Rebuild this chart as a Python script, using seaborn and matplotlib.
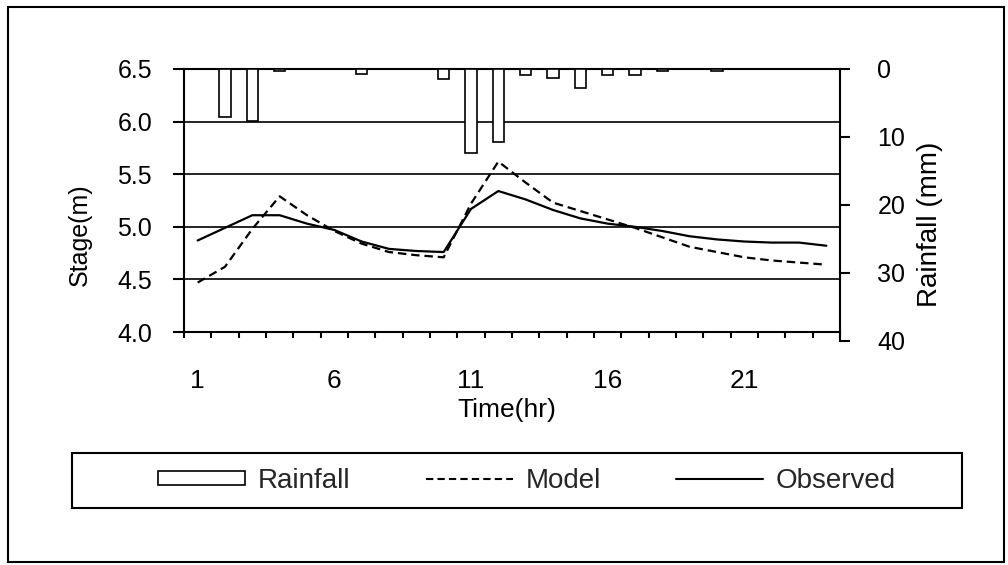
import matplotlib
matplotlib.use("Agg")
import matplotlib.pyplot as plt
from matplotlib.patches import Rectangle, Patch
from matplotlib.lines import Line2D
import numpy as np
import pandas as pd
import seaborn as sns

# Hourly series
hours = list(range(1, 25))
rainfall_mm = [0, 7.0, 7.6, 0.3, 0, 0, 0.7, 0, 0, 1.5, 12.3, 10.8,
               0.9, 1.3, 2.8, 0.9, 0.9, 0.3, 0, 0.3, 0, 0, 0, 0]
model_stage = [4.47, 4.62, 4.98, 5.29, 5.11, 4.96, 4.84, 4.76, 4.73, 4.71, 5.22, 5.62,
               5.42, 5.23, 5.15, 5.07, 4.99, 4.90, 4.81, 4.76, 4.71, 4.68, 4.66, 4.64]
observed_stage = [4.87, 4.99, 5.11, 5.11, 5.03, 4.97, 4.86, 4.79, 4.77, 4.76, 5.17, 5.34,
                  5.26, 5.16, 5.08, 5.03, 5.00, 4.96, 4.91, 4.88, 4.86, 4.85, 4.85, 4.82]

x_ticks = [1, 6, 11, 16, 21]
stage_ticks = [4.0, 4.5, 5.0, 5.5, 6.0, 6.5]
rain_ticks = [0, 10, 20, 30, 40]
series_labels = ["Rainfall", "Model", "Observed"]

sns.set_theme(style="white")
plt.rcParams["font.family"] = ["Liberation Sans", "DejaVu Sans"]

W, H = 1008, 565
fig = plt.figure(figsize=(W / 100, H / 100), dpi=100)


def fx(px):
    return px / W


def fy(py):
    return 1 - py / H


# Stage axes (left) and rainfall axes (right, hanging bars)
ax = fig.add_axes([fx(184), fy(332), fx(840) - fx(184), fy(69) - fy(332)])
axr = fig.add_axes([fx(184), fy(341), fx(840) - fx(184), fy(69) - fy(341)])

stage_df = pd.DataFrame({
    "Time": hours * 2,
    "Stage": model_stage + observed_stage,
    "Series": ["Model"] * len(hours) + ["Observed"] * len(hours),
})
sns.lineplot(data=stage_df, x="Time", y="Stage", style="Series",
             dashes={"Model": (3.8, 2.2), "Observed": ""},
             color="black", linewidth=1.6, legend=False, ax=ax)

ax.set_xlim(0.5, 24.5)
ax.set_ylim(4.0, 6.5)
ax.set_yticks(stage_ticks)
ax.set_yticklabels([f"{v:.1f}" for v in stage_ticks])
ax.set_xticks(x_ticks)
ax.set_xticklabels([str(v) for v in x_ticks])
ax.set_xticks(np.arange(0.5, 25, 1), minor=True)
ax.yaxis.grid(True, color="black", linewidth=1.2)
ax.xaxis.grid(False)
ax.set_axisbelow(True)
for side in ["left", "bottom", "top"]:
    ax.spines[side].set_visible(True)
    ax.spines[side].set_color("black")
    ax.spines[side].set_linewidth(1.5)
ax.spines["right"].set_visible(False)
ax.tick_params(axis="y", which="major", direction="out", length=8, width=1.5,
               labelsize=18, pad=15, left=True, colors="black")
ax.tick_params(axis="x", which="major", length=0, labelsize=19, pad=27,
               colors="black")
ax.tick_params(axis="x", which="minor", direction="out", length=4.5, width=1.5,
               bottom=True, colors="black")

ax.set_xlabel("Time(hr)", fontsize=19, color="black")
ax.xaxis.set_label_coords(0.492, -0.25)
ax.xaxis.label.set_va("top")
ax.set_ylabel("Stage(m)", fontsize=18, color="black")
ax.yaxis.set_label_coords(-0.14, 0.369)

# Rainfall bars on the inverted right-hand axis
sns.barplot(x=hours, y=rainfall_mm, native_scale=True, width=0.42,
            color="white", saturation=1, edgecolor="black", linewidth=1.2,
            errorbar=None, ax=axr)
axr.set_xlim(0.5, 24.5)
axr.set_ylim(40, 0)
axr.set_yticks(rain_ticks)
axr.set_yticklabels([str(v) for v in rain_ticks])
axr.patch.set_visible(False)
axr.set_xticks([])
axr.set_xlabel("")
for side in ["left", "bottom", "top"]:
    axr.spines[side].set_visible(False)
axr.spines["right"].set_visible(True)
axr.spines["right"].set_color("black")
axr.spines["right"].set_linewidth(1.5)
axr.yaxis.tick_right()
axr.yaxis.set_label_position("right")
axr.set_ylabel("Rainfall (mm)", fontsize=20, color="black")
axr.yaxis.set_label_coords(1.118, 0.43)
axr.yaxis.set_tick_params(which="major", direction="out", length=7, width=1.5,
                          labelsize=18, right=True, left=False,
                          labelright=True, labelleft=False, colors="black")
axr.yaxis.set_tick_params(which="major", pad=20)

# Legend in its own box below the plot
handles = [
    Patch(facecolor="white", edgecolor="black", linewidth=1.2),
    Line2D([], [], color="black", linewidth=1.5, linestyle=(0, (3.5, 2))),
    Line2D([], [], color="black", linewidth=1.5),
]
fig.legend(handles, series_labels, ncol=3, frameon=False, loc="center left",
           bbox_to_anchor=(fx(158), fy(481)), borderpad=0, borderaxespad=0,
           handlelength=3.13, handleheight=0.42, handletextpad=0.47,
           columnspacing=2.7, fontsize=20)
fig.patches.append(Rectangle((fx(72), fy(508)), fx(962) - fx(72), fy(453) - fy(508),
                             transform=fig.transFigure, fill=False,
                             edgecolor="black", linewidth=1.5))

# Outer frame
fig.patches.append(Rectangle((fx(8), fy(562)), fx(1004) - fx(8), fy(7) - fy(562),
                             transform=fig.transFigure, fill=False,
                             edgecolor="black", linewidth=1.5))

fig.savefig("out.png", dpi=100)
